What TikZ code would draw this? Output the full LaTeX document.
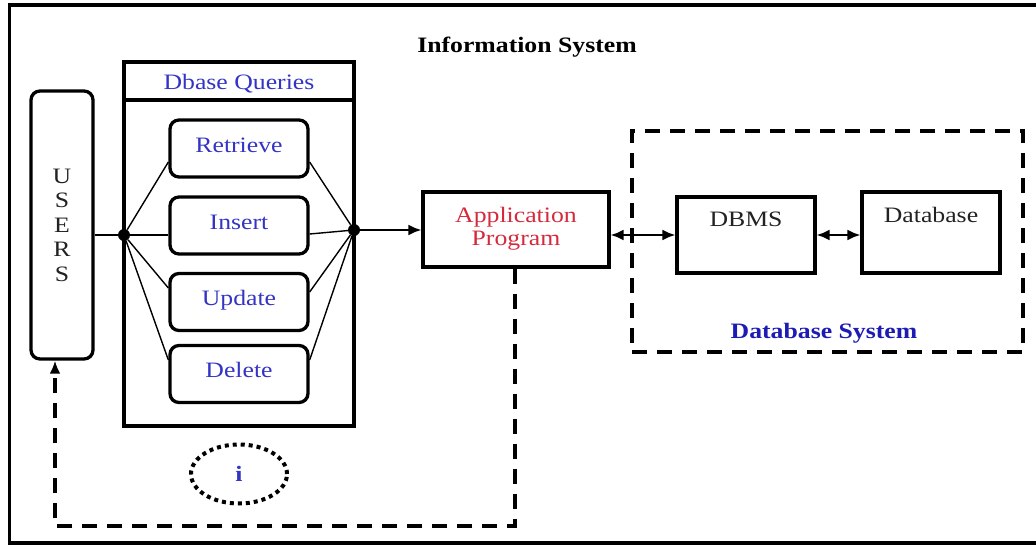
\documentclass[tikz,border=0pt]{standalone}
\usepackage{fontspec}
\setmainfont{Liberation Serif}[FakeStretch=1.17]
\usetikzlibrary{arrows.meta,shapes.geometric}
\definecolor{qblue}{HTML}{3434C4}
\definecolor{dblue}{HTML}{1C1CB4}
\definecolor{apred}{HTML}{D42A3C}
\definecolor{dgray}{HTML}{222222}
\tikzset{
  thick box/.style={draw=black, line width=3.3pt, inner sep=0pt},
  qbox/.style={thick box, rounded corners=9pt, minimum width=138pt, minimum height=57pt,
               text height=14pt, text depth=7pt,
               text=qblue, font=\fontsize{22}{24}\selectfont},
  plainbox/.style={thick box, minimum width=138pt},
  txt/.style={inner sep=0pt, font=\fontsize{22}{24}\selectfont},
  thin/.style={line width=1.4pt},
  dashline/.style={line width=3.2pt, dash pattern=on 15pt off 10pt},
  junc/.style={circle, fill=black, inner sep=0pt, minimum size=12pt},
  tip/.style={-{Latex[length=13pt,width=11pt]}},
  dtip/.style={{Latex[length=13pt,width=11pt]}-{Latex[length=13pt,width=11pt]}}
}
\begin{document}
\begin{tikzpicture}[x=1pt,y=-1pt]
\useasboundingbox (0,0) rectangle (1036,546);
% outer frame
\draw[line width=3.3pt] (1036,5) -- (9.5,5) -- (9.5,543) -- (1036,543);
\node[txt, font=\bfseries\fontsize{22}{24}\selectfont] (title) at (527,47) {Information System};

% users
\node[thick box, rounded corners=9pt, minimum width=62pt, minimum height=268pt,
      align=center, font=\fontsize{22}{24.5}\selectfont, text=dgray] (users) at (62,225)
      {U\\S\\E\\R\\S};

% Dbase queries frame
\node[thick box, minimum width=230pt, minimum height=364pt] (dq) at (239,244) {};
\coordinate (hl) at (124,100);
\coordinate (hr) at (354,100);
\draw[line width=3.3pt] (hl) -- (hr);
\node[txt, text=qblue] (dqt) at (239,84) {Dbase Queries};

\node[qbox] (ret) at (239,148.5) {Retrieve};
\node[qbox] (ins) at (239,225.5) {Insert};
\node[qbox] (upd) at (239,302) {Update};
\node[qbox] (del) at (239,374) {Delete};

\node[junc] (jl) at (124,235) {};
\node[junc] (jr) at (354,230) {};

\draw[line width=2.2pt] (users.east |- jl) -- (jl);
\draw[thin] (jl) -- (ret.west |- 0,162);
\draw[thin] (jl) -- (ins.west |- jl);
\draw[thin] (jl) -- (upd.west |- 0,288);
\draw[thin] (jl) -- (del.west |- 0,360);
\draw[thin] (jr) -- (ret.east |- 0,162);
\draw[thin] (jr) -- (ins.east |- 0,234);
\draw[thin] (jr) -- (upd.east |- 0,292);
\draw[thin] (jr) -- (del.east |- 0,360);

% application program
\node[thick box, minimum width=186pt, minimum height=75pt] (app) at (516,229.5) {};
\node[txt, text=apred, align=center, font=\fontsize{22}{23}\selectfont] (appt) at (516,229) {Application\\Program};
\draw[line width=2.2pt, tip] (jr) -- (app.west |- jr);

% database system
\node[draw, dashline, minimum width=391pt, minimum height=221pt, inner sep=0pt] (dbs) at (827.5,241.5) {};
\node[txt, text=dblue, font=\bfseries\fontsize{22}{24}\selectfont] (dbst) at (824,333) {Database System};

\node[plainbox, minimum height=76pt] (dbms) at (746,235) {};
\node[txt, text=dgray] (dbmst) at (746,219) {DBMS};
\node[plainbox, minimum height=81pt] (db) at (931,232.5) {};
\node[txt, text=dgray] (dbt) at (931,215) {Database};

\draw[line width=2.2pt, dtip] (app.east |- 0,235) -- (dbms.west |- 0,235);
\draw[line width=2.2pt, dtip] (dbms.east |- 0,235) -- (db.west |- 0,235);

% feedback
\coordinate (fb1) at (515,526);
\coordinate (fb2) at (55,526);
\draw[dashline, tip] (app.south -| fb1) -- (fb1) -- (fb2) -- (users.south -| fb2);

% info ellipse
\node[ellipse, draw, line width=4pt, dash pattern=on 4pt off 4pt, minimum width=96pt, minimum height=59pt,
      inner sep=0pt, text=qblue, font=\bfseries\fontsize{22}{24}\selectfont] (info) at (239,474) {i};
\end{tikzpicture}
\end{document}
